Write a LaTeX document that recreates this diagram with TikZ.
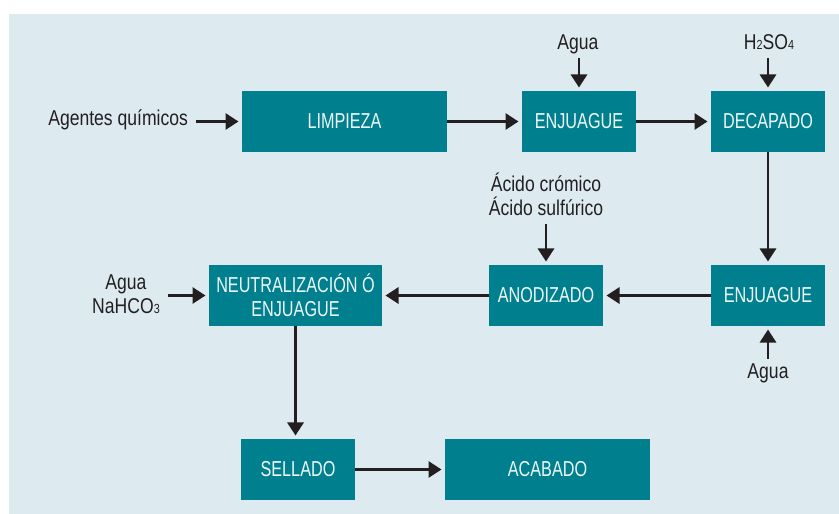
\documentclass[tikz,border=0pt]{standalone}
\usepackage{fontspec}
\setmainfont[FakeStretch=0.75]{Liberation Sans}
\newfontfamily\labelfont[FakeStretch=0.82]{Liberation Sans}
\usepackage{xcolor}
\usetikzlibrary{arrows.meta}
\definecolor{panelblue}{HTML}{DDEBF1}
\definecolor{procteal}{HTML}{00808F}
\definecolor{proctext}{HTML}{EEF8F8}
\definecolor{ink}{HTML}{231F20}
\newcommand{\chemsub}[1]{{\fontsize{7.5}{7.5}\selectfont #1}}

\begin{document}
\begin{tikzpicture}[x=0.02cm, y=-0.02cm,
    every node/.style={font=\fontsize{12.3}{13.6}\selectfont, outer sep=0pt},
    proc/.style={fill=procteal, text=proctext, minimum width=2.28cm,
      minimum height=1.22cm, inner sep=0pt, align=center},
    wide/.style={minimum width=4.1cm},
    lbl/.style={font=\labelfont\fontsize{12.2}{13.6}\selectfont, text=ink,
      align=center, inner sep=0pt, text height=0.72em, text depth=0.22em},
    flow/.style={draw=ink, line width=1.4pt,
      -{Triangle[length=7.4pt,width=9.2pt]}, shorten >=2pt},
    feed/.style={flow, shorten <=2.8pt}]
  \useasboundingbox (0,0) rectangle (839,514);
  \fill[panelblue] (9,14) rectangle (839,514);

  \node[proc, wide] (limpieza) at (344.5,121.5) {LIMPIEZA};
  \node[proc] (enjuague1) at (579,121.5) {ENJUAGUE};
  \node[proc] (decapado) at (768,121.5) {DECAPADO};
  \node[proc] (enjuague2) at (768,295.5) {ENJUAGUE};
  \node[proc] (anodizado) at (546,295.5) {ANODIZADO};
  \node[proc, minimum width=3.46cm] (neutral) at (295.5,295.5) {NEUTRALIZACIÓN Ó\\ENJUAGUE};
  \node[proc] (sellado) at (298,469.5) {SELLADO};
  \node[proc, wide] (acabado) at (547.5,469.5) {ACABADO};

  \node[lbl, anchor=east] (agentes) at (188,121.5) {Agentes químicos};
  \node[lbl, anchor=south] (agua1) at (578,53) {Agua};
  \node[lbl, anchor=south] (acido) at (769,53) {H\chemsub{2}SO\chemsub{4}};
  \node[lbl, anchor=south] (cromico) at (546,219) {Ácido crómico\\Ácido sulfúrico};
  \node[lbl, anchor=south] (neutra) at (126,317.5) {Agua\\NaHCO\chemsub{3}};
  \node[lbl, anchor=north] (agua2) at (768,366) {Agua};

  \draw[feed, shorten <=4.5pt] (agentes.east |- limpieza.west) -- (limpieza.west);
  \draw[feed] (agua1.south -| enjuague1.north) -- (enjuague1.north);
  \draw[feed] (acido.south -| decapado.north) -- (decapado.north);
  \draw[feed] (cromico.south -| anodizado.north) -- (anodizado.north);
  \draw[feed, shorten <=4.5pt] (neutra.east |- neutral.west) -- (neutral.west);
  \draw[feed, shorten <=4pt] (agua2.north -| enjuague2.south) -- (enjuague2.south);

  \draw[flow] (limpieza) -- (enjuague1);
  \draw[flow] (enjuague1) -- (decapado);
  \draw[flow] (decapado) -- (enjuague2);
  \draw[flow] (enjuague2) -- (anodizado);
  \draw[flow] (anodizado) -- (neutral);
  \draw[flow] (neutral.south) -- (neutral.south |- sellado.north);
  \draw[flow] (sellado) -- (acabado);
\end{tikzpicture}
\end{document}
